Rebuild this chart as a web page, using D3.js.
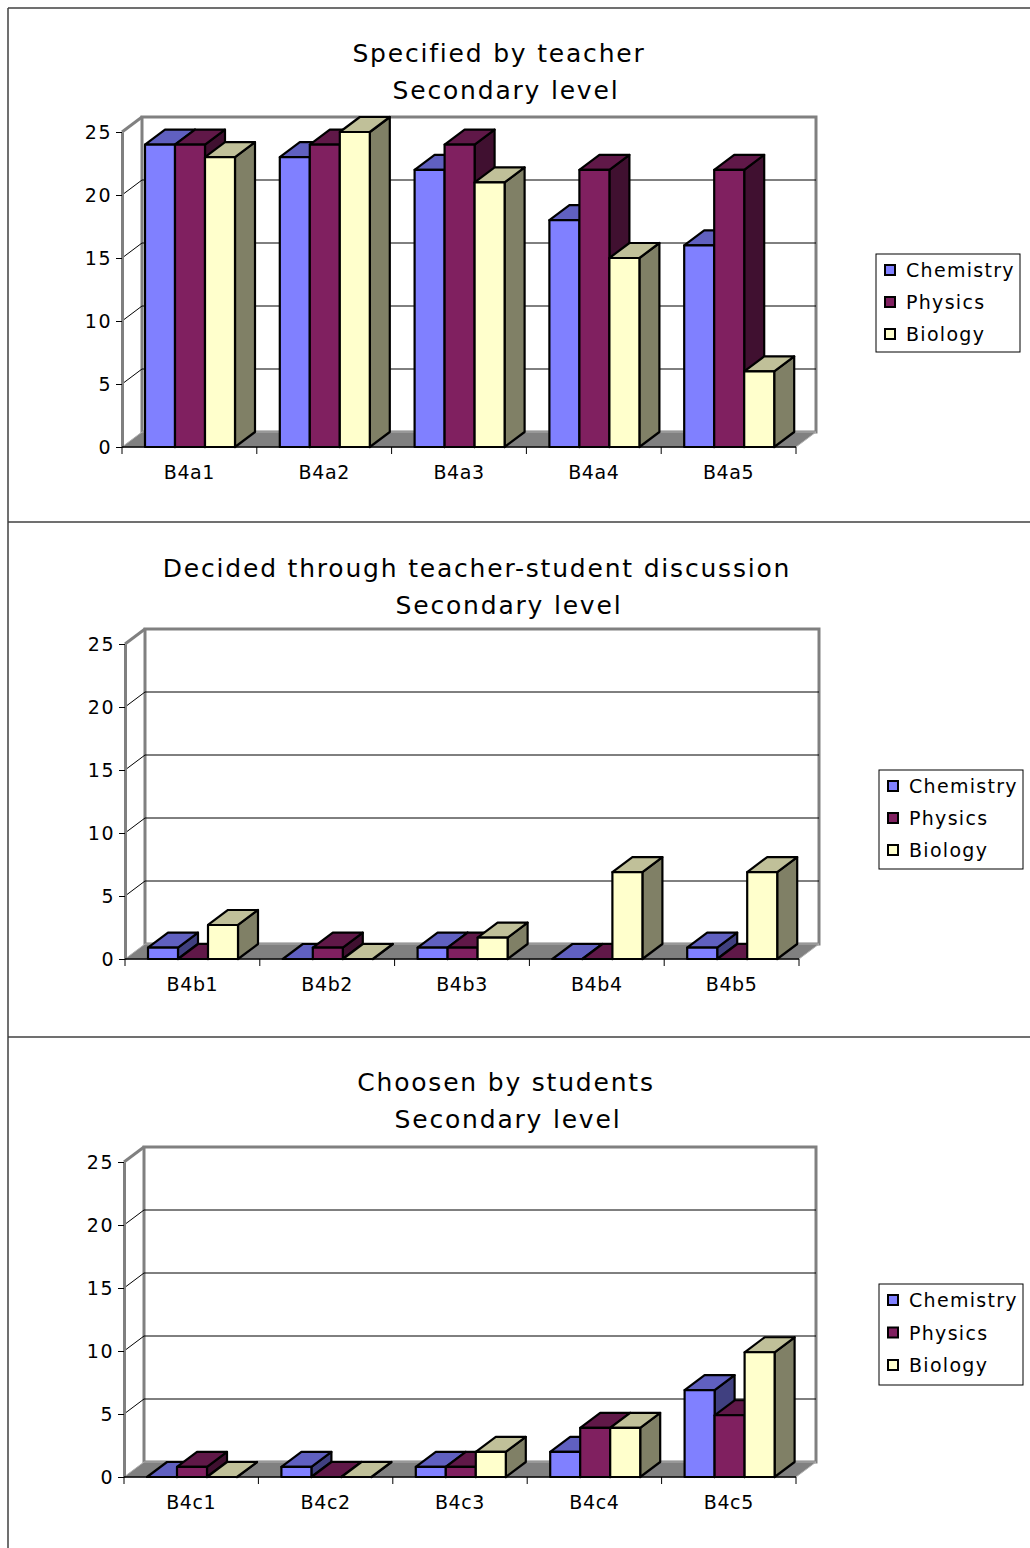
<!DOCTYPE html>
<html>
<head>
<meta charset="utf-8">
<script src="https://cdn.jsdelivr.net/npm/d3@7"></script>
<style>
body{margin:0;background:#fff;}
text{font-family:"DejaVu Sans",Verdana,sans-serif;fill:#000;}
</style>
</head>
<body>
<svg width="1030" height="1548"></svg>
<script>
// ---- data ----
const seriesNames=["Chemistry","Physics","Biology"];
const yTicks=[0,5,10,15,20,25];

const titlesA=["Specified by teacher","Secondary level"];
const catsA=["B4a1","B4a2","B4a3","B4a4","B4a5"];
const chemA=[24,23,22,18,16];
const physA=[24,24,24,22,22];
const bioA=[23,25,21,15,6];

const titlesB=["Decided through teacher-student discussion","Secondary level"];
const catsB=["B4b1","B4b2","B4b3","B4b4","B4b5"];
const chemB=[0.9,0,0.9,0,0.9];
const physB=[0,0.9,0.9,0,0];
const bioB=[2.7,0,1.7,6.9,6.9];

const titlesC=["Choosen by students","Secondary level"];
const catsC=["B4c1","B4c2","B4c3","B4c4","B4c5"];
const chemC=[0,0.8,0.8,2,6.9];
const physC=[0.8,0,0.8,3.9,4.9];
const bioC=[0,0,2,3.9,9.9];

// colours: front, top, side
const colors={
  Chemistry:["#8080ff","#6060c0","#404080"],
  Physics:["#802060","#601848","#401030"],
  Biology:["#ffffcc","#c0c099","#808066"]
};

const svg=d3.select('svg');
const dx=20, dy=-15, k=12.6;

/* panel frame lines */
svg.append('line').attr('x1',8).attr('x2',1030).attr('y1',8).attr('y2',8)
   .attr('stroke','#404040').attr('stroke-width',1.5);
svg.append('line').attr('x1',8).attr('x2',8).attr('y1',8).attr('y2',1548)
   .attr('stroke','#404040').attr('stroke-width',1.5);
[522,1037].forEach(y=>svg.append('line').attr('x1',8).attr('x2',1030).attr('y1',y).attr('y2',y)
   .attr('stroke','#404040').attr('stroke-width',1.5));

const drawPanel=(cfg,titles,cats,series)=>{
  const g=svg.append('g');
  const {x0,y0,catW}=cfg;
  const xEnd=x0+cats.length*catW;

  const x=d3.scaleBand().domain(cats).range([x0,xEnd]);
  const sub=d3.scaleBand().domain(seriesNames).range([23,113]);
  const y=d3.scaleLinear().domain([0,25]).range([y0,y0-25*k]);
  const yTop=y(25);

  // titles
  titles.forEach((t,i)=>g.append('text')
     .attr('x',cfg.titleX[i]).attr('y',cfg.titleY+i*37)
     .attr('text-anchor','middle')
     .style('font-size','25px').style('letter-spacing','1.8px')
     .text(t));

  // side wall
  g.append('polygon')
   .attr('points',[[x0,y0],[x0+dx,y0+dy],[x0+dx,yTop+dy],[x0,yTop]].join(' '))
   .attr('fill','#fff');
  // back wall
  g.append('rect').attr('x',x0+dx).attr('y',yTop+dy)
   .attr('width',xEnd-x0).attr('height',y0-yTop)
   .attr('fill','#fff').attr('stroke','#808080').attr('stroke-width',3);
  // gridlines
  yTicks.filter(t=>t>0&&t<25).forEach(t=>{
    g.append('line').attr('x1',x0+dx).attr('x2',xEnd+dx)
     .attr('y1',y(t)+dy).attr('y2',y(t)+dy).attr('stroke','#000').attr('stroke-width',1);
    g.append('line').attr('x1',x0).attr('x2',x0+dx)
     .attr('y1',y(t)).attr('y2',y(t)+dy).attr('stroke','#000').attr('stroke-width',1);
  });
  g.append('line').attr('x1',x0).attr('x2',x0+dx).attr('y1',yTop).attr('y2',yTop+dy)
   .attr('stroke','#808080').attr('stroke-width',3);
  // floor
  g.append('polygon')
   .attr('points',[[x0,y0],[xEnd,y0],[xEnd+dx,y0+dy],[x0+dx,y0+dy]].join(' '))
   .attr('fill','#808080').attr('stroke','#b0b0b0').attr('stroke-width',1);

  // y axis
  const ya=g.append('g').attr('transform',`translate(${x0},0)`)
    .call(d3.axisLeft(y).tickValues(yTicks).tickSize(6).tickSizeOuter(0).tickPadding(4));
  ya.select('.domain').attr('stroke','#808080').attr('stroke-width',3);
  ya.selectAll('.tick line').attr('stroke','#000');
  ya.selectAll('.tick text').style('font-size','19px').style('letter-spacing','1.5px')
    .style('font-family','"DejaVu Sans",Verdana,sans-serif');

  // x axis: labels at band centres, ticks at boundaries
  const xa=g.append('g').attr('transform',`translate(0,${y0})`)
    .call(d3.axisBottom(x).tickSize(0).tickPadding(19));
  xa.select('.domain').remove();
  xa.selectAll('.tick text').style('font-size','19px').style('letter-spacing','0.6px')
    .style('font-family','"DejaVu Sans",Verdana,sans-serif');
  g.append('line').attr('x1',x0).attr('x2',xEnd).attr('y1',y0).attr('y2',y0)
   .attr('stroke','#000').attr('stroke-width',1.5);
  cats.map(c=>x(c)).concat([xEnd]).forEach(px=>g.append('line')
   .attr('x1',px).attr('x2',px).attr('y1',y0).attr('y2',y0+7).attr('stroke','#000'));

  // bars
  const bars=[];
  cats.forEach((c,i)=>seriesNames.forEach((s,j)=>bars.push({c,s,v:series[j][i]})));
  const bg=g.selectAll('g.bar').data(bars).enter().append('g').attr('class','bar');
  const bw=sub.bandwidth();
  const face=(sel,fn,ci)=>sel.append('polygon')
     .attr('points',d=>fn(d).join(' '))
     .attr('fill',d=>colors[d.s][ci])
     .attr('stroke','#000').attr('stroke-width',2.2).attr('stroke-linejoin','round');
  const bx=d=>x(d.c)+sub(d.s);
  face(bg,d=>{const l=bx(d),t=y(d.v);
     return [[l+bw,t],[l+bw+dx,t+dy],[l+bw+dx,y0+dy],[l+bw,y0]];},2);
  face(bg,d=>{const l=bx(d),t=y(d.v);
     return [[l,t],[l+dx,t+dy],[l+bw+dx,t+dy],[l+bw,t]];},1);
  face(bg,d=>{const l=bx(d),t=y(d.v);
     return [[l,t],[l+bw,t],[l+bw,y0],[l,y0]];},0);

  // legend
  const lg=g.append('g').attr('transform',`translate(${cfg.legend[0]},${cfg.legend[1]})`);
  lg.append('rect').attr('width',144).attr('height',cfg.legend[2])
    .attr('fill','#fff').attr('stroke','#000').attr('stroke-width',1);
  seriesNames.forEach((s,i)=>{
    const cy=16+i*cfg.legend[3];
    lg.append('rect').attr('x',9).attr('y',cy-5).attr('width',10).attr('height',10)
      .attr('fill',colors[s][0]).attr('stroke','#000').attr('stroke-width',2);
    lg.append('text').attr('x',30).attr('y',cy+7)
      .style('font-size','19px').style('letter-spacing','1.3px').text(s);
  });
};

drawPanel({x0:122,y0:447,catW:134.8,titleX:[499,506],titleY:62,legend:[876,254,98,32]},
  titlesA,catsA,[chemA,physA,bioA]);
drawPanel({x0:125,y0:959,catW:134.8,titleX:[477,509],titleY:577,legend:[879,770,99,32]},
  titlesB,catsB,[chemB,physB,bioB]);
drawPanel({x0:124,y0:1477,catW:134.4,titleX:[506,508],titleY:1091,legend:[879,1284,101,32.5]},
  titlesC,catsC,[chemC,physC,bioC]);
</script>
</body>
</html>
